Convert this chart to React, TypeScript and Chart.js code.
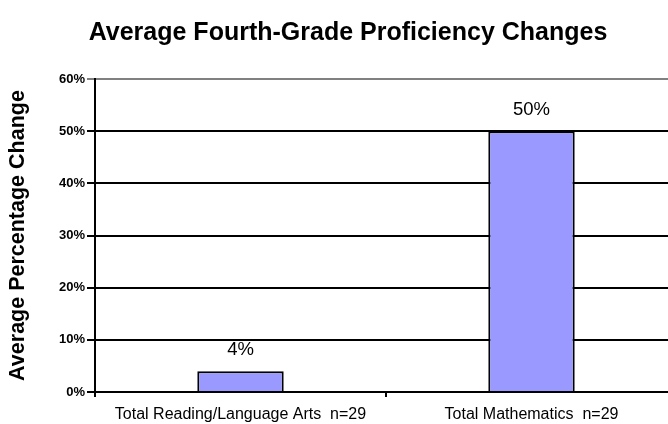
import React, { useEffect, useRef } from "react";
import { Chart, registerables } from "chart.js";

Chart.register(...registerables);

const categories = ["Total Reading/Language Arts  n=29", "Total Mathematics  n=29"];
const values = [4, 50];
const valueLabels = ["4%", "50%"];
const yTicks = [0, 10, 20, 30, 40, 50, 60];
const chartTitle = "Average Fourth-Grade Proficiency Changes";
const yTitle = "Average Percentage Change";

const FONT = "'Liberation Sans', Arial, sans-serif";

const titlePlugin = {
  id: "customTitle",
  afterDraw(chart: any) {
    const ctx = chart.ctx;
    ctx.save();
    ctx.font = `bold 25px ${FONT}`;
    ctx.fillStyle = "#000";
    ctx.textAlign = "center";
    ctx.textBaseline = "alphabetic";
    ctx.fillText(chartTitle, 348, 40);
    ctx.restore();
  },
};

const valueLabelPlugin = {
  id: "valueLabels",
  afterDatasetsDraw(chart: any) {
    const ctx = chart.ctx;
    const meta = chart.getDatasetMeta(0);
    ctx.save();
    ctx.font = `18.5px ${FONT}`;
    ctx.fillStyle = "#000";
    ctx.textAlign = "center";
    ctx.textBaseline = "middle";
    meta.data.forEach((bar: any, i: number) => {
      ctx.fillText(valueLabels[i], bar.x, bar.y - 21);
    });
    ctx.restore();
  },
};

export default function App() {
  const ref = useRef<HTMLCanvasElement>(null);
  useEffect(() => {
    if (!ref.current) return;
    const chart = new Chart(ref.current, {
      type: "bar",
      data: {
        labels: categories,
        datasets: [
          {
            data: values,
            backgroundColor: "#9999FF",
            borderColor: "#000",
            borderWidth: 2,
            barPercentage: 0.297,
            categoryPercentage: 1,
          },
        ],
      },
      options: {
        animation: false,
        responsive: false,
        layout: { padding: { top: 79, left: 0, right: 0, bottom: 0 } },
        plugins: { legend: { display: false }, tooltip: { enabled: false }, title: { display: false } },
        scales: {
          x: {
            afterFit: (s: any) => { s.height = 32; },
            grid: {
              offset: true,
              drawOnChartArea: false,
              drawTicks: true,
              tickLength: 5,
              color: "#000",
              lineWidth: 2,
            },
            border: { color: "#000", width: 2 },
            ticks: { color: "#000", font: { family: FONT, size: 16 }, padding: 8, maxRotation: 0, autoSkip: false },
          },
          y: {
            min: 0,
            max: 60,
            afterFit: (s: any) => { s.width = 95; },
            afterBuildTicks: (s: any) => { s.ticks = yTicks.map((v) => ({ value: v })); },
            grid: {
              color: (c: any) => (c.tick && c.tick.value === 60 ? "#808080" : "#000"),
              lineWidth: 2,
              tickLength: 8,
            },
            border: { color: "#000", width: 2 },
            ticks: {
              color: "#000",
              font: { family: FONT, size: 13, weight: "bold" },
              padding: 2,
              callback: (v: any) => `${v}%`,
            },
            title: {
              display: true,
              text: yTitle,
              color: "#000",
              font: { family: FONT, size: 21.5, weight: "bold" },
              padding: { top: 5, bottom: 0 },
            },
          },
        },
      },
      plugins: [titlePlugin, valueLabelPlugin],
    } as any);
    return () => chart.destroy();
  }, []);
  return (
    <div style={{ position: "fixed", left: 0, top: 0, width: 668, height: 424, overflow: "hidden", background: "#fff" }}>
      <canvas ref={ref} width={677} height={424} style={{ display: "block", width: 677, height: 424 }} />
    </div>
  );
}
